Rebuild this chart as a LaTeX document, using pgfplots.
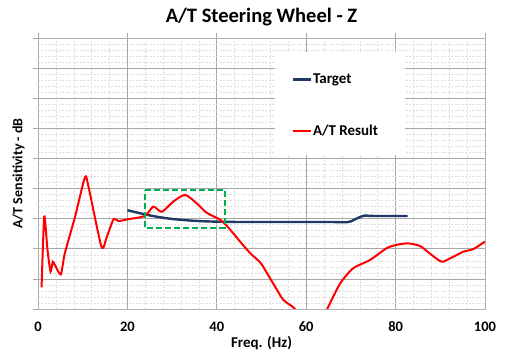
\documentclass[border=0pt]{standalone}
\usepackage{pgfplots}
\pgfplotsset{compat=1.18}
\usepackage{fontspec}
\setmainfont{Carlito}
\definecolor{navy}{RGB}{31,56,100}
\definecolor{grn}{RGB}{0,176,80}
\begin{document}
\begin{tikzpicture}[x=1pt,y=1pt]
\useasboundingbox (-38,-55) rectangle (469,309);
\begin{axis}[
 at={(0,0)}, anchor=south west,
 scale only axis, width=447pt, height=271pt,
 xmin=0, xmax=100, ymin=0, ymax=9,
 xtick={0,20,...,100}, ytick={0,1,...,9}, yticklabels={},
 minor x tick num=4, minor y tick num=4,
 grid=both,
 major grid style={black!35, line width=0.7pt},
 minor grid style={black!13, dash pattern=on 2pt off 1.5pt, line width=0.5pt},
 axis line style={black!30, line width=0.7pt},
 tick align=outside, ytick pos=left, xtick pos=upper, xticklabel pos=lower,
 major tick length=5pt, minor tick length=0pt,
 tick style={black!35, line width=0.7pt},
 /pgf/number format/assume math mode=true,
 xticklabel style={font=\bfseries\fontsize{14.5}{16}\selectfont, yshift=-4pt},
 xlabel={Freq. (Hz)},
 xlabel style={font=\bfseries\fontsize{15}{18}\selectfont, yshift=2pt},
 ylabel={A/T Sensitivity - dB},
 ylabel style={font=\bfseries\fontsize{14}{16}\selectfont, yshift=-2pt},
 title={A/T Steering Wheel - Z},
 title style={font=\bfseries\fontsize{20.5}{24}\selectfont, yshift=2pt},
 legend style={at={(rel axis cs:0.567,0.872)}, anchor=north west, draw=none, fill=none,
   font=\bfseries\fontsize{15}{18}\selectfont, inner sep=0pt, row sep=38pt,
   nodes={inner sep=1pt}},
 legend cell align=left,
 legend image code/.code={\draw[#1] (0pt,0pt) -- (18pt,0pt);},
]
\fill[white] (rel axis cs:0.530,0.948) rectangle (rel axis cs:0.821,0.568);
\addplot[navy, line width=2.4pt, smooth] coordinates {
(20,3.28) (22,3.21) (24,3.14) (26,3.08) (28,3.03) (30,2.99) (33,2.95) (36,2.92) (40,2.90)
(45,2.89) (55,2.89) (65,2.89) (69,2.88) (70,2.91) (71.5,3.02) (73,3.10) (75,3.09) (82.7,3.09)
};
\addlegendentry{Target}
\addplot[red, line width=2pt, smooth, tension=0.4] coordinates {
(0.8,0.72) (1.4,3.07) (2.1,2.0) (2.8,1.24) (3.3,1.57) (3.8,1.46) (5.1,1.15) (6.0,1.85)
(8.3,3.07) (10.5,4.37) (11.3,4.06) (14.2,2.07) (15.4,2.40) (16.9,2.98) (18,2.92) (20.1,2.98)
(23.9,3.09) (25.8,3.40) (27.7,3.23) (30.3,3.57) (32.9,3.79) (35.5,3.51) (37.7,3.20) (41.1,2.93)
(43.7,2.51) (45.2,2.24) (47.5,1.85) (49.7,1.55) (50.8,1.30) (52.6,0.85) (54.9,0.30) (57.5,0.0)
(59.5,-0.6) (61,-0.8) (63,-0.5) (64.7,0.0) (67.6,0.85) (70.5,1.35) (74.3,1.63) (78.0,2.02)
(80.2,2.13) (82.8,2.18) (85.5,2.09) (88.1,1.79) (90.3,1.57) (92.2,1.68) (95.1,1.90) (97.4,1.99)
(100,2.24)
};
\addlegendentry{A/T Result}
\addplot[grn, line width=1.8pt, dash pattern=on 6pt off 3pt, forget plot] coordinates {
(23.9,3.95) (41.8,3.95) (41.8,2.70) (23.9,2.70) (23.9,3.95)
};
\end{axis}
\end{tikzpicture}
\end{document}
